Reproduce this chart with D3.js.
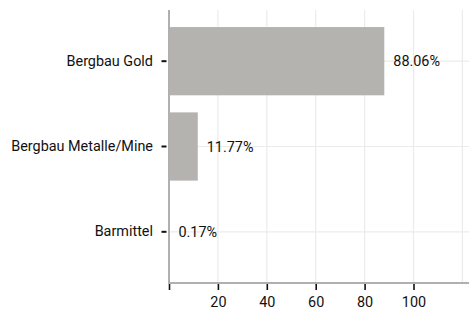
<!DOCTYPE html><html><head><script src="https://cdn.jsdelivr.net/npm/d3@7"></script>
<style>body{margin:0;background:#fff}text{font-family:Roboto,"Liberation Sans",sans-serif;fill:#111}</style></head><body><svg id="s" width="469" height="310"></svg><script>
const categories=["Bergbau Gold","Bergbau Metalle/Mine","Barmittel"];
const values=[88.06,11.77,0.17];
const valueLabels=["88.06%","11.77%","0.17%"];
const xTicks=[0,20,40,60,80,100];
const xTickLabels=["","20","40","60","80","100"];
const xGrid=[20,40,60,80,100,120];

const W=469,H=310,m={l:169,t:10,r:0,b:27};
const svg=d3.select("#s");
const x=d3.scaleLinear().domain([0,122.7]).range([m.l,W-m.r]);
const y=d3.scaleBand().domain(categories).range([m.t,H-m.b]).padding(0.2);
const fs=14.4;

// grid
svg.append("g").selectAll("line").data(xGrid).join("line")
 .attr("x1",d=>x(d)).attr("x2",d=>x(d)).attr("y1",m.t).attr("y2",H-m.b)
 .attr("stroke","#ebebeb").attr("stroke-width",1.2);
svg.append("g").selectAll("line").data(categories).join("line")
 .attr("x1",m.l).attr("x2",W).attr("y1",d=>y(d)+y.bandwidth()/2).attr("y2",d=>y(d)+y.bandwidth()/2)
 .attr("stroke","#ebebeb").attr("stroke-width",1.2);

// bars
svg.append("g").selectAll("rect").data(values).join("rect")
 .attr("x",x(0)).attr("y",(d,i)=>y(categories[i])).attr("width",d=>x(d)-x(0)).attr("height",y.bandwidth())
 .attr("fill","#b4b3af");

// value labels
svg.append("g").selectAll("text").data(values).join("text")
 .attr("x",d=>x(d)+9).attr("y",(d,i)=>y(categories[i])+y.bandwidth()/2).attr("dy","0.35em")
 .attr("font-size",fs).text((d,i)=>valueLabels[i]);

// axes lines
svg.append("line").attr("x1",x(0)).attr("x2",x(0)).attr("y1",m.t).attr("y2",H-m.b+1).attr("stroke","#b0b0b0").attr("stroke-width",2);
svg.append("line").attr("x1",x(0)-1).attr("x2",W).attr("y1",H-m.b).attr("y2",H-m.b).attr("stroke","#b0b0b0").attr("stroke-width",2);

// x axis
const xa=d3.axisBottom(x).tickValues(xTicks).tickFormat((d,i)=>xTickLabels[i]).tickSize(6).tickPadding(6.5);
const gx=svg.append("g").attr("transform",`translate(0,${H-m.b+1})`).call(xa);
gx.select(".domain").remove();
gx.selectAll(".tick line").attr("stroke","#111").attr("stroke-width",1.6);
gx.selectAll(".tick text").attr("font-size",fs).attr("font-family","Roboto").attr("fill","#111");

// y axis
const ya=d3.axisLeft(y).tickSize(5).tickPadding(8.5);
const gy=svg.append("g").attr("transform",`translate(${m.l-2.5},0)`).call(ya);
gy.select(".domain").remove();
gy.selectAll(".tick line").attr("stroke","#111").attr("stroke-width",2);
gy.selectAll(".tick text").attr("font-size",fs).attr("font-family","Roboto").attr("fill","#111");
</script></body></html>
